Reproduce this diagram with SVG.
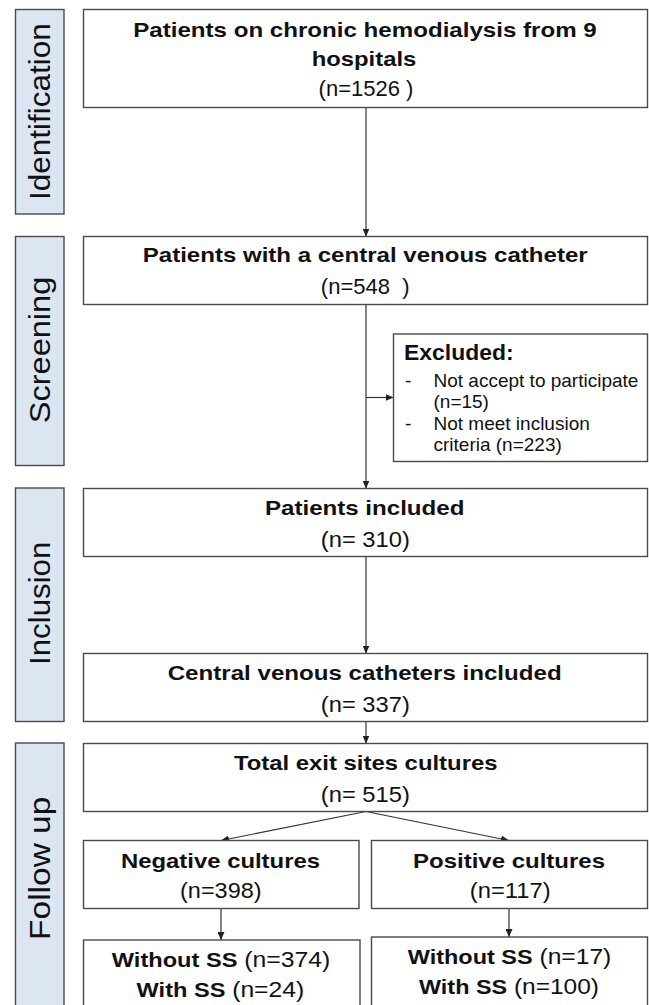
<svg xmlns="http://www.w3.org/2000/svg" width="649" height="1005" viewBox="0 0 649 1005">
<style>
.bg{fill:#ffffff}
.box{fill:#ffffff;stroke:#4a4a4a;stroke-width:1.4}
.side{fill:#dce6f2;stroke:#4a4a4a;stroke-width:1.4}
.b{font-family:"Liberation Sans",Arial,sans-serif;font-weight:bold;font-size:21px;fill:#111;text-anchor:middle}
.r{font-family:"Liberation Sans",Arial,sans-serif;font-size:22px;fill:#111;text-anchor:middle}
.s{font-family:"Liberation Sans",Arial,sans-serif;font-size:29px;fill:#111;text-anchor:middle}
.e{font-family:"Liberation Sans",Arial,sans-serif;font-size:19px;fill:#111}
.eb{font-family:"Liberation Sans",Arial,sans-serif;font-size:22px;font-weight:bold;fill:#111}
.c{fill:none;stroke:#333;stroke-width:1.2;marker-end:url(#ah)}
</style>
<defs>
<marker id="ah" markerUnits="userSpaceOnUse" markerWidth="8" markerHeight="7" refX="8" refY="3.5" orient="auto">
<path d="M0,0 L8,3.5 L0,7 z" fill="#222"/>
</marker>
</defs>
<rect class="bg" x="0" y="0" width="649" height="1005"/>

<g id="side-identification">
<rect class="side" x="15.5" y="9.5" width="48.5" height="204.5"/>
<text class="s" transform="translate(50,111.7) rotate(-90)" textLength="176.7" lengthAdjust="spacingAndGlyphs">Identification</text>
</g>
<g id="side-screening">
<rect class="side" x="15.5" y="236.5" width="48.5" height="229"/>
<text class="s" transform="translate(50,350) rotate(-90)" textLength="146.7" lengthAdjust="spacingAndGlyphs">Screening</text>
</g>
<g id="side-inclusion">
<rect class="side" x="15.5" y="488" width="48.5" height="233.5"/>
<text class="s" transform="translate(50,603.3) rotate(-90)" textLength="123.3" lengthAdjust="spacingAndGlyphs">Inclusion</text>
</g>
<g id="side-followup">
<rect class="side" x="15.5" y="743" width="48.5" height="280"/>
<text class="s" transform="translate(50,868.3) rotate(-90)" textLength="143.3" lengthAdjust="spacingAndGlyphs">Follow up</text>
</g>

<g id="connectors">
<line class="c" x1="366" y1="107.5" x2="366" y2="236.5"/>
<line class="c" x1="366" y1="304.5" x2="366" y2="488.5"/>
<line class="c" x1="366" y1="397.5" x2="393.5" y2="397.5"/>
<line class="c" x1="366" y1="556.5" x2="366" y2="653.5"/>
<line class="c" x1="366" y1="721.5" x2="366" y2="743.5"/>
<line class="c" x1="366" y1="811.5" x2="221" y2="840.5"/>
<line class="c" x1="366" y1="811.5" x2="509" y2="840.5"/>
<line class="c" x1="221" y1="908.5" x2="221" y2="940"/>
<line class="c" x1="509" y1="908.5" x2="509" y2="937"/>
</g>

<g id="n-hospitals">
<rect class="box" x="83.5" y="9.5" width="564" height="98"/>
<text class="b" x="365" y="37" textLength="463.6" lengthAdjust="spacingAndGlyphs">Patients on chronic hemodialysis from 9</text>
<text class="b" x="364" y="66" textLength="104.7" lengthAdjust="spacingAndGlyphs">hospitals</text>
<text class="r" x="366" y="95.5" xml:space="preserve">(n=1526 )</text>
</g>

<g id="n-cvc">
<rect class="box" x="83.5" y="236.5" width="564" height="68"/>
<text class="b" x="365.2" y="261.5" textLength="444.9" lengthAdjust="spacingAndGlyphs">Patients with a central venous catheter</text>
<text class="r" x="365.2" y="294" xml:space="preserve">(n=548  )</text>
</g>

<g id="n-excluded">
<rect class="box" x="393.5" y="334" width="254" height="127.5"/>
<text class="eb" x="404" y="360" textLength="109.6" lengthAdjust="spacingAndGlyphs">Excluded:</text>
<text class="e" x="405" y="386.7">-</text>
<text class="e" x="433.5" y="386.7">Not accept to participate</text>
<text class="e" x="433.5" y="407.5">(n=15)</text>
<text class="e" x="405" y="430">-</text>
<text class="e" x="433.5" y="430">Not meet inclusion</text>
<text class="e" x="433.5" y="451">criteria (n=223)</text>
</g>

<g id="n-patients-included">
<rect class="box" x="83.5" y="488.5" width="564" height="68"/>
<text class="b" x="364.7" y="515" textLength="199.5" lengthAdjust="spacingAndGlyphs">Patients included</text>
<text class="r" x="365.3" y="546.7" textLength="89" lengthAdjust="spacingAndGlyphs">(n= 310)</text>
</g>

<g id="n-cvc-included">
<rect class="box" x="83.5" y="653.5" width="564" height="68"/>
<text class="b" x="364.7" y="680.3" textLength="394" lengthAdjust="spacingAndGlyphs">Central venous catheters included</text>
<text class="r" x="365.3" y="711.7" textLength="89" lengthAdjust="spacingAndGlyphs">(n= 337)</text>
</g>

<g id="n-total">
<rect class="box" x="83.5" y="743.5" width="564" height="68"/>
<text class="b" x="365.7" y="770.3" textLength="263.6" lengthAdjust="spacingAndGlyphs">Total exit sites cultures</text>
<text class="r" x="365.3" y="801.7" textLength="89" lengthAdjust="spacingAndGlyphs">(n= 515)</text>
</g>

<g id="n-negative">
<rect class="box" x="83.5" y="840.5" width="275.5" height="68"/>
<text class="b" x="220.5" y="868" textLength="199" lengthAdjust="spacingAndGlyphs">Negative cultures</text>
<text class="r" x="220.8" y="898" textLength="81.5" lengthAdjust="spacingAndGlyphs">(n=398)</text>
</g>

<g id="n-positive">
<rect class="box" x="371.5" y="840.5" width="276" height="68"/>
<text class="b" x="509" y="868" textLength="192" lengthAdjust="spacingAndGlyphs">Positive cultures</text>
<text class="r" x="510.2" y="898" textLength="80.7" lengthAdjust="spacingAndGlyphs">(n=117)</text>
</g>

<g id="n-neg-ss">
<rect class="box" x="83.5" y="940" width="276.5" height="80"/>
<text class="r" x="221" y="966.7" textLength="218.5" lengthAdjust="spacingAndGlyphs"><tspan font-weight="bold" font-size="21">Without SS</tspan> (n=374)</text>
<text class="r" x="220.4" y="996.7" textLength="167.6" lengthAdjust="spacingAndGlyphs"><tspan font-weight="bold" font-size="21">With SS</tspan> (n=24)</text>
</g>

<g id="n-pos-ss">
<rect class="box" x="371.5" y="937" width="276" height="80"/>
<text class="r" x="509.5" y="964" textLength="203.6" lengthAdjust="spacingAndGlyphs"><tspan font-weight="bold" font-size="21">Without SS</tspan> (n=17)</text>
<text class="r" x="509" y="994" textLength="180" lengthAdjust="spacingAndGlyphs"><tspan font-weight="bold" font-size="21">With SS</tspan> (n=100)</text>
</g>
</svg>
